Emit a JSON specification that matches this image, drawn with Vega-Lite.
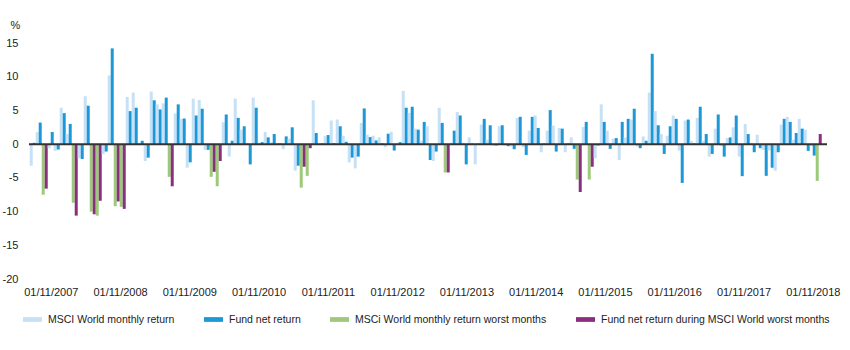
{
"$schema": "https://vega.github.io/schema/vega-lite/v6.json",
"width": 798, "height": 236,
"autosize": {"type": "none"},
"padding": {"left": 29, "top": 43, "right": 23, "bottom": 71},
"background": "white",
"config": {"view": {"stroke": null}, "font": "Liberation Sans", "axis": {"labelColor": "#222", "labelFontSize": 11}},
"datasets": {
"monthly": [
{"m":"2007-11","k":"MSCI","s":"msci","v":-3.2},{"m":"2007-11","k":"Fund","s":"fund","v":0.2},
{"m":"2007-12","k":"MSCI","s":"msci","v":1.8},{"m":"2007-12","k":"Fund","s":"fund","v":3.2},
{"m":"2008-01","k":"MSCI","s":"msciW","v":-7.5},{"m":"2008-01","k":"Fund","s":"fundW","v":-6.6},
{"m":"2008-02","k":"MSCI","s":"msci","v":-0.6},{"m":"2008-02","k":"Fund","s":"fund","v":1.8},
{"m":"2008-03","k":"MSCI","s":"msci","v":-1.0},{"m":"2008-03","k":"Fund","s":"fund","v":-0.8},
{"m":"2008-04","k":"MSCI","s":"msci","v":5.4},{"m":"2008-04","k":"Fund","s":"fund","v":4.6},
{"m":"2008-05","k":"MSCI","s":"msci","v":1.5},{"m":"2008-05","k":"Fund","s":"fund","v":3.0},
{"m":"2008-06","k":"MSCI","s":"msciW","v":-8.7},{"m":"2008-06","k":"Fund","s":"fundW","v":-10.6},
{"m":"2008-07","k":"MSCI","s":"msci","v":-2.1},{"m":"2008-07","k":"Fund","s":"fund","v":-2.2},
{"m":"2008-08","k":"MSCI","s":"msci","v":7.1},{"m":"2008-08","k":"Fund","s":"fund","v":5.7},
{"m":"2008-09","k":"MSCI","s":"msciW","v":-10.0},{"m":"2008-09","k":"Fund","s":"fundW","v":-10.4},
{"m":"2008-10","k":"MSCI","s":"msciW","v":-10.6},{"m":"2008-10","k":"Fund","s":"fundW","v":-8.4},
{"m":"2008-11","k":"MSCI","s":"msci","v":-1.5},{"m":"2008-11","k":"Fund","s":"fund","v":-1.1},
{"m":"2008-12","k":"MSCI","s":"msci","v":10.2},{"m":"2008-12","k":"Fund","s":"fund","v":14.2},
{"m":"2009-01","k":"MSCI","s":"msciW","v":-9.2},{"m":"2009-01","k":"Fund","s":"fundW","v":-8.5},
{"m":"2009-02","k":"MSCI","s":"msciW","v":-9.3},{"m":"2009-02","k":"Fund","s":"fundW","v":-9.6},
{"m":"2009-03","k":"MSCI","s":"msci","v":7.0},{"m":"2009-03","k":"Fund","s":"fund","v":4.9},
{"m":"2009-04","k":"MSCI","s":"msci","v":7.65},{"m":"2009-04","k":"Fund","s":"fund","v":5.4},
{"m":"2009-05","k":"MSCI","s":"msci","v":0.2},{"m":"2009-05","k":"Fund","s":"fund","v":0.5},
{"m":"2009-06","k":"MSCI","s":"msci","v":-2.5},{"m":"2009-06","k":"Fund","s":"fund","v":-2.0},
{"m":"2009-07","k":"MSCI","s":"msci","v":7.8},{"m":"2009-07","k":"Fund","s":"fund","v":6.5},
{"m":"2009-08","k":"MSCI","s":"msci","v":5.9},{"m":"2009-08","k":"Fund","s":"fund","v":5.15},
{"m":"2009-09","k":"MSCI","s":"msci","v":6.05},{"m":"2009-09","k":"Fund","s":"fund","v":6.9},
{"m":"2009-10","k":"MSCI","s":"msciW","v":-4.85},{"m":"2009-10","k":"Fund","s":"fundW","v":-6.25},
{"m":"2009-11","k":"MSCI","s":"msci","v":4.55},{"m":"2009-11","k":"Fund","s":"fund","v":5.9},
{"m":"2009-12","k":"MSCI","s":"msci","v":3.75},{"m":"2009-12","k":"Fund","s":"fund","v":3.8},
{"m":"2010-01","k":"MSCI","s":"msci","v":-3.5},{"m":"2010-01","k":"Fund","s":"fund","v":-2.7},
{"m":"2010-02","k":"MSCI","s":"msci","v":6.75},{"m":"2010-02","k":"Fund","s":"fund","v":4.25},
{"m":"2010-03","k":"MSCI","s":"msci","v":6.55},{"m":"2010-03","k":"Fund","s":"fund","v":5.25},
{"m":"2010-04","k":"MSCI","s":"msci","v":-0.85},{"m":"2010-04","k":"Fund","s":"fund","v":-0.85},
{"m":"2010-05","k":"MSCI","s":"msciW","v":-4.85},{"m":"2010-05","k":"Fund","s":"fundW","v":-4.1},
{"m":"2010-06","k":"MSCI","s":"msciW","v":-6.25},{"m":"2010-06","k":"Fund","s":"fundW","v":-2.5},
{"m":"2010-07","k":"MSCI","s":"msci","v":3.25},{"m":"2010-07","k":"Fund","s":"fund","v":4.4},
{"m":"2010-08","k":"MSCI","s":"msci","v":-1.85},{"m":"2010-08","k":"Fund","s":"fund","v":0.5},
{"m":"2010-09","k":"MSCI","s":"msci","v":6.75},{"m":"2010-09","k":"Fund","s":"fund","v":3.9},
{"m":"2010-10","k":"MSCI","s":"msci","v":2.15},{"m":"2010-10","k":"Fund","s":"fund","v":2.65},
{"m":"2010-11","k":"MSCI","s":"msci","v":0.2},{"m":"2010-11","k":"Fund","s":"fund","v":-3.0},
{"m":"2010-12","k":"MSCI","s":"msci","v":6.9},{"m":"2010-12","k":"Fund","s":"fund","v":5.4},
{"m":"2011-01","k":"MSCI","s":"msci","v":0.2},{"m":"2011-01","k":"Fund","s":"fund","v":0.3},
{"m":"2011-02","k":"MSCI","s":"msci","v":1.8},{"m":"2011-02","k":"Fund","s":"fund","v":1.0},
{"m":"2011-03","k":"MSCI","s":"msci","v":0.3},{"m":"2011-03","k":"Fund","s":"fund","v":1.5},
{"m":"2011-04","k":"MSCI","s":"msci","v":0.1},{"m":"2011-04","k":"Fund","s":"fund","v":0.1},
{"m":"2011-05","k":"MSCI","s":"msci","v":-0.75},{"m":"2011-05","k":"Fund","s":"fund","v":1.15},
{"m":"2011-06","k":"MSCI","s":"msci","v":0.8},{"m":"2011-06","k":"Fund","s":"fund","v":2.5},
{"m":"2011-07","k":"MSCI","s":"msci","v":-3.95},{"m":"2011-07","k":"Fund","s":"fund","v":-3.2},
{"m":"2011-08","k":"MSCI","s":"msciW","v":-6.45},{"m":"2011-08","k":"Fund","s":"fundW","v":-3.35},
{"m":"2011-09","k":"MSCI","s":"msciW","v":-4.7},{"m":"2011-09","k":"Fund","s":"fundW","v":-0.6},
{"m":"2011-10","k":"MSCI","s":"msci","v":6.5},{"m":"2011-10","k":"Fund","s":"fund","v":1.65},
{"m":"2011-11","k":"MSCI","s":"msci","v":0.1},{"m":"2011-11","k":"Fund","s":"fund","v":0.1},
{"m":"2011-12","k":"MSCI","s":"msci","v":1.25},{"m":"2011-12","k":"Fund","s":"fund","v":1.35},
{"m":"2012-01","k":"MSCI","s":"msci","v":3.5},{"m":"2012-01","k":"Fund","s":"fund","v":0.15},
{"m":"2012-02","k":"MSCI","s":"msci","v":3.65},{"m":"2012-02","k":"Fund","s":"fund","v":2.65},
{"m":"2012-03","k":"MSCI","s":"msci","v":1.25},{"m":"2012-03","k":"Fund","s":"fund","v":0.35},
{"m":"2012-04","k":"MSCI","s":"msci","v":-2.7},{"m":"2012-04","k":"Fund","s":"fund","v":-2.0},
{"m":"2012-05","k":"MSCI","s":"msci","v":-3.6},{"m":"2012-05","k":"Fund","s":"fund","v":-1.85},
{"m":"2012-06","k":"MSCI","s":"msci","v":3.15},{"m":"2012-06","k":"Fund","s":"fund","v":5.3},
{"m":"2012-07","k":"MSCI","s":"msci","v":1.4},{"m":"2012-07","k":"Fund","s":"fund","v":1.05},
{"m":"2012-08","k":"MSCI","s":"msci","v":1.25},{"m":"2012-08","k":"Fund","s":"fund","v":0.55},
{"m":"2012-09","k":"MSCI","s":"msci","v":1.0},{"m":"2012-09","k":"Fund","s":"fund","v":0.1},
{"m":"2012-10","k":"MSCI","s":"msci","v":-0.45},{"m":"2012-10","k":"Fund","s":"fund","v":1.55},
{"m":"2012-11","k":"MSCI","s":"msci","v":1.85},{"m":"2012-11","k":"Fund","s":"fund","v":-0.95},
{"m":"2012-12","k":"MSCI","s":"msci","v":0.2},{"m":"2012-12","k":"Fund","s":"fund","v":0.3},
{"m":"2013-01","k":"MSCI","s":"msci","v":7.9},{"m":"2013-01","k":"Fund","s":"fund","v":5.4},
{"m":"2013-02","k":"MSCI","s":"msci","v":4.65},{"m":"2013-02","k":"Fund","s":"fund","v":5.55},
{"m":"2013-03","k":"MSCI","s":"msci","v":2.3},{"m":"2013-03","k":"Fund","s":"fund","v":2.15},
{"m":"2013-04","k":"MSCI","s":"msci","v":0.5},{"m":"2013-04","k":"Fund","s":"fund","v":3.3},
{"m":"2013-05","k":"MSCI","s":"msci","v":2.65},{"m":"2013-05","k":"Fund","s":"fund","v":-2.35},
{"m":"2013-06","k":"MSCI","s":"msci","v":-2.5},{"m":"2013-06","k":"Fund","s":"fund","v":-1.1},
{"m":"2013-07","k":"MSCI","s":"msci","v":5.4},{"m":"2013-07","k":"Fund","s":"fund","v":3.15},
{"m":"2013-08","k":"MSCI","s":"msciW","v":-4.2},{"m":"2013-08","k":"Fund","s":"fundW","v":-4.2},
{"m":"2013-09","k":"MSCI","s":"msci","v":0.2},{"m":"2013-09","k":"Fund","s":"fund","v":2.0},
{"m":"2013-10","k":"MSCI","s":"msci","v":4.75},{"m":"2013-10","k":"Fund","s":"fund","v":4.25},
{"m":"2013-11","k":"MSCI","s":"msci","v":0.2},{"m":"2013-11","k":"Fund","s":"fund","v":-3.0},
{"m":"2013-12","k":"MSCI","s":"msci","v":1.0},{"m":"2013-12","k":"Fund","s":"fund","v":0.1},
{"m":"2014-01","k":"MSCI","s":"msci","v":-3.0},{"m":"2014-01","k":"Fund","s":"fund","v":0.1},
{"m":"2014-02","k":"MSCI","s":"msci","v":2.9},{"m":"2014-02","k":"Fund","s":"fund","v":3.75},
{"m":"2014-03","k":"MSCI","s":"msci","v":0.65},{"m":"2014-03","k":"Fund","s":"fund","v":2.8},
{"m":"2014-04","k":"MSCI","s":"msci","v":-0.2},{"m":"2014-04","k":"Fund","s":"fund","v":-0.2},
{"m":"2014-05","k":"MSCI","s":"msci","v":2.65},{"m":"2014-05","k":"Fund","s":"fund","v":2.8},
{"m":"2014-06","k":"MSCI","s":"msci","v":-0.2},{"m":"2014-06","k":"Fund","s":"fund","v":-0.3},
{"m":"2014-07","k":"MSCI","s":"msci","v":-0.35},{"m":"2014-07","k":"Fund","s":"fund","v":-0.75},
{"m":"2014-08","k":"MSCI","s":"msci","v":3.9},{"m":"2014-08","k":"Fund","s":"fund","v":4.05},
{"m":"2014-09","k":"MSCI","s":"msci","v":-0.45},{"m":"2014-09","k":"Fund","s":"fund","v":-1.6},
{"m":"2014-10","k":"MSCI","s":"msci","v":2.0},{"m":"2014-10","k":"Fund","s":"fund","v":4.05},
{"m":"2014-11","k":"MSCI","s":"msci","v":4.25},{"m":"2014-11","k":"Fund","s":"fund","v":2.4},
{"m":"2014-12","k":"MSCI","s":"msci","v":-1.2},{"m":"2014-12","k":"Fund","s":"fund","v":0.1},
{"m":"2015-01","k":"MSCI","s":"msci","v":2.0},{"m":"2015-01","k":"Fund","s":"fund","v":5.05},
{"m":"2015-02","k":"MSCI","s":"msci","v":2.75},{"m":"2015-02","k":"Fund","s":"fund","v":-1.1},
{"m":"2015-03","k":"MSCI","s":"msci","v":2.4},{"m":"2015-03","k":"Fund","s":"fund","v":2.3},
{"m":"2015-04","k":"MSCI","s":"msci","v":-1.2},{"m":"2015-04","k":"Fund","s":"fund","v":0.1},
{"m":"2015-05","k":"MSCI","s":"msci","v":1.0},{"m":"2015-05","k":"Fund","s":"fund","v":-0.7},
{"m":"2015-06","k":"MSCI","s":"msciW","v":-5.25},{"m":"2015-06","k":"Fund","s":"fundW","v":-7.1},
{"m":"2015-07","k":"MSCI","s":"msci","v":2.55},{"m":"2015-07","k":"Fund","s":"fund","v":3.3},
{"m":"2015-08","k":"MSCI","s":"msciW","v":-5.25},{"m":"2015-08","k":"Fund","s":"fundW","v":-3.35},
{"m":"2015-09","k":"MSCI","s":"msci","v":-2.1},{"m":"2015-09","k":"Fund","s":"fund","v":-0.2},
{"m":"2015-10","k":"MSCI","s":"msci","v":5.9},{"m":"2015-10","k":"Fund","s":"fund","v":3.3},
{"m":"2015-11","k":"MSCI","s":"msci","v":2.0},{"m":"2015-11","k":"Fund","s":"fund","v":-0.7},
{"m":"2015-12","k":"MSCI","s":"msci","v":0.8},{"m":"2015-12","k":"Fund","s":"fund","v":0.9},
{"m":"2016-01","k":"MSCI","s":"msci","v":-2.35},{"m":"2016-01","k":"Fund","s":"fund","v":3.3},
{"m":"2016-02","k":"MSCI","s":"msci","v":1.0},{"m":"2016-02","k":"Fund","s":"fund","v":3.75},
{"m":"2016-03","k":"MSCI","s":"msci","v":3.65},{"m":"2016-03","k":"Fund","s":"fund","v":5.25},
{"m":"2016-04","k":"MSCI","s":"msci","v":-0.35},{"m":"2016-04","k":"Fund","s":"fund","v":-0.6},
{"m":"2016-05","k":"MSCI","s":"msci","v":1.15},{"m":"2016-05","k":"Fund","s":"fund","v":0.5},
{"m":"2016-06","k":"MSCI","s":"msci","v":7.65},{"m":"2016-06","k":"Fund","s":"fund","v":13.4},
{"m":"2016-07","k":"MSCI","s":"msci","v":4.9},{"m":"2016-07","k":"Fund","s":"fund","v":2.8},
{"m":"2016-08","k":"MSCI","s":"msci","v":1.5},{"m":"2016-08","k":"Fund","s":"fund","v":-1.45},
{"m":"2016-09","k":"MSCI","s":"msci","v":1.25},{"m":"2016-09","k":"Fund","s":"fund","v":2.65},
{"m":"2016-10","k":"MSCI","s":"msci","v":4.25},{"m":"2016-10","k":"Fund","s":"fund","v":3.75},
{"m":"2016-11","k":"MSCI","s":"msci","v":-0.95},{"m":"2016-11","k":"Fund","s":"fund","v":-5.75},
{"m":"2016-12","k":"MSCI","s":"msci","v":3.5},{"m":"2016-12","k":"Fund","s":"fund","v":3.65},
{"m":"2017-01","k":"MSCI","s":"msci","v":0.5},{"m":"2017-01","k":"Fund","s":"fund","v":0.1},
{"m":"2017-02","k":"MSCI","s":"msci","v":3.9},{"m":"2017-02","k":"Fund","s":"fund","v":5.55},
{"m":"2017-03","k":"MSCI","s":"msci","v":0.5},{"m":"2017-03","k":"Fund","s":"fund","v":1.5},
{"m":"2017-04","k":"MSCI","s":"msci","v":-1.85},{"m":"2017-04","k":"Fund","s":"fund","v":-1.45},
{"m":"2017-05","k":"MSCI","s":"msci","v":2.3},{"m":"2017-05","k":"Fund","s":"fund","v":4.4},
{"m":"2017-06","k":"MSCI","s":"msci","v":-0.3},{"m":"2017-06","k":"Fund","s":"fund","v":-1.85},
{"m":"2017-07","k":"MSCI","s":"msci","v":0.9},{"m":"2017-07","k":"Fund","s":"fund","v":1.0},
{"m":"2017-08","k":"MSCI","s":"msci","v":2.5},{"m":"2017-08","k":"Fund","s":"fund","v":4.25},
{"m":"2017-09","k":"MSCI","s":"msci","v":-1.85},{"m":"2017-09","k":"Fund","s":"fund","v":-4.75},
{"m":"2017-10","k":"MSCI","s":"msci","v":3.0},{"m":"2017-10","k":"Fund","s":"fund","v":1.5},
{"m":"2017-11","k":"MSCI","s":"msci","v":0.2},{"m":"2017-11","k":"Fund","s":"fund","v":-1.2},
{"m":"2017-12","k":"MSCI","s":"msci","v":1.4},{"m":"2017-12","k":"Fund","s":"fund","v":-0.6},
{"m":"2018-01","k":"MSCI","s":"msci","v":-0.85},{"m":"2018-01","k":"Fund","s":"fund","v":-4.7},
{"m":"2018-02","k":"MSCI","s":"msci","v":-0.95},{"m":"2018-02","k":"Fund","s":"fund","v":-3.5},
{"m":"2018-03","k":"MSCI","s":"msci","v":-3.95},{"m":"2018-03","k":"Fund","s":"fund","v":-1.2},
{"m":"2018-04","k":"MSCI","s":"msci","v":2.9},{"m":"2018-04","k":"Fund","s":"fund","v":3.75},
{"m":"2018-05","k":"MSCI","s":"msci","v":4.05},{"m":"2018-05","k":"Fund","s":"fund","v":3.3},
{"m":"2018-06","k":"MSCI","s":"msci","v":0.65},{"m":"2018-06","k":"Fund","s":"fund","v":1.65},
{"m":"2018-07","k":"MSCI","s":"msci","v":3.75},{"m":"2018-07","k":"Fund","s":"fund","v":2.3},
{"m":"2018-08","k":"MSCI","s":"msci","v":2.15},{"m":"2018-08","k":"Fund","s":"fund","v":-1.0},
{"m":"2018-09","k":"MSCI","s":"msci","v":-0.3},{"m":"2018-09","k":"Fund","s":"fund","v":-1.7},
{"m":"2018-10","k":"MSCI","s":"msciW","v":-5.45},{"m":"2018-10","k":"Fund","s":"fundW","v":1.5}
],
"xlabels": [
{"lab":"01/11/2007"},{"lab":"01/11/2008"},{"lab":"01/11/2009"},{"lab":"01/11/2010"},{"lab":"01/11/2011"},{"lab":"01/11/2012"},
{"lab":"01/11/2013"},{"lab":"01/11/2014"},{"lab":"01/11/2015"},{"lab":"01/11/2016"},{"lab":"01/11/2017"},{"lab":"01/11/2018"}
]
},
"layer": [
{
"data": {"name": "monthly"},
"mark": {"type": "bar"},
"encoding": {
"x": {"field": "m", "type": "ordinal", "scale": {"paddingInner": 0, "paddingOuter": 0.5, "align": 0.12}, "axis": null},
"xOffset": {"field": "k", "type": "nominal", "scale": {"domain": ["MSCI", "Fund"], "paddingInner": 0, "paddingOuter": 0}},
"y": {"field": "v", "type": "quantitative", "scale": {"domain": [-20, 15], "nice": false},
"axis": {"values": [-20, -15, -10, -5, 0, 5, 10, 15], "labelExpr": "'' + datum.value", "labelOverlap": false, "domain": false, "ticks": false, "grid": false, "labelPadding": 11,
"title": "%", "titleAngle": 0, "titleX": -14, "titleY": -18, "titleAlign": "center", "titleBaseline": "middle", "titleFontWeight": "normal", "titleFontSize": 11, "titleColor": "#222"}},
"color": {"field": "s", "type": "nominal",
"scale": {"domain": ["msci", "fund", "msciW", "fundW"], "range": ["#c6e0f5", "#1b98d8", "#9dc97b", "#8a2f7e"]},
"legend": {"orient": "none", "legendX": -6, "legendY": 267, "direction": "horizontal", "columns": 4, "title": null,
"symbolType": "M-1,-0.25H1V0.25H-1Z", "symbolSize": 361, "symbolStrokeWidth": 0, "symbolOpacity": 1,
"labelFontSize": 10.5, "labelColor": "#222", "labelOffset": 6, "columnPadding": 29, "labelLimit": 0, "padding": 0,
"labelExpr": "datum.value == 'msci' ? 'MSCI World monthly return' : datum.value == 'fund' ? 'Fund net return' : datum.value == 'msciW' ? 'MSCi World monthly return worst months' : 'Fund net return during MSCI World worst months'"}}
}
},
{
"data": {"values": [{}]},
"mark": {"type": "rule", "color": "#333", "strokeWidth": 2},
"encoding": {"y": {"datum": 0, "type": "quantitative",
"axis": {"values": [-20, -15, -10, -5, 0, 5, 10, 15], "labelExpr": "'' + datum.value", "labelOverlap": false, "domain": false, "ticks": false, "grid": false, "labelPadding": 11,
"title": "%", "titleAngle": 0, "titleX": -14, "titleY": -18, "titleAlign": "center", "titleBaseline": "middle", "titleFontWeight": "normal", "titleFontSize": 11, "titleColor": "#222"}}}
},
{
"data": {"name": "xlabels"},
"mark": {"type": "point", "opacity": 0},
"encoding": {
"x": {"field": "lab", "type": "ordinal", "sort": null, "scale": {"type": "point", "padding": 0.26, "align": 0.605},
"axis": {"orient": "bottom", "title": null, "domain": false, "ticks": false, "labelPadding": 7, "labelAngle": 0}}
}
}
],
"resolve": {"scale": {"x": "independent"}}
}
